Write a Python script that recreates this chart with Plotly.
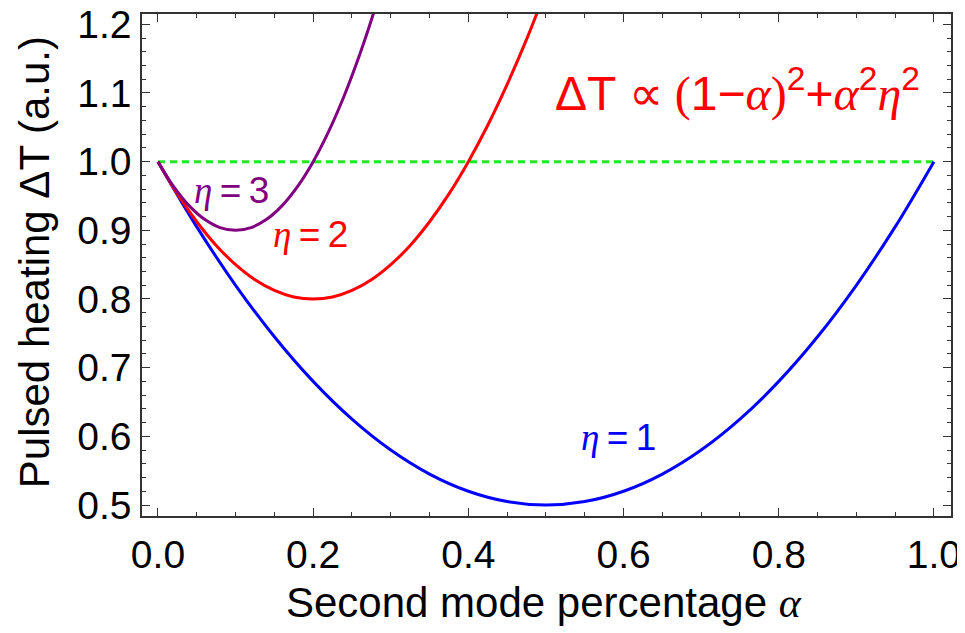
import plotly.graph_objects as go

# Data
alpha_eta1 = [0.00, 0.05, 0.10, 0.15, 0.20, 0.25, 0.30, 0.35, 0.40, 0.45, 0.50,
              0.55, 0.60, 0.65, 0.70, 0.75, 0.80, 0.85, 0.90, 0.95, 1.00]
dT_eta1 = [1.000, 0.905, 0.820, 0.745, 0.680, 0.625, 0.580, 0.545, 0.520, 0.505, 0.500,
           0.505, 0.520, 0.545, 0.580, 0.625, 0.680, 0.745, 0.820, 0.905, 1.000]

alpha_eta2 = [0.000, 0.025, 0.050, 0.075, 0.100, 0.125, 0.150, 0.175, 0.200, 0.225, 0.250,
              0.275, 0.300, 0.325, 0.350, 0.375, 0.400, 0.425, 0.450, 0.475, 0.500]
dT_eta2 = [1.000, 0.953, 0.9125, 0.878, 0.850, 0.828, 0.8125, 0.803, 0.800, 0.803, 0.8125,
           0.828, 0.850, 0.878, 0.9125, 0.953, 1.000, 1.053, 1.1125, 1.178, 1.250]

alpha_eta3 = [0.00, 0.02, 0.04, 0.06, 0.08, 0.10, 0.12, 0.14, 0.16, 0.18, 0.20,
              0.22, 0.24, 0.26, 0.28, 0.30]
dT_eta3 = [1.000, 0.964, 0.936, 0.916, 0.904, 0.900, 0.904, 0.916, 0.936, 0.964, 1.000,
           1.044, 1.096, 1.156, 1.224, 1.300]

alpha_ref = [0.0, 1.0]
dT_ref = [1.0, 1.0]

x_ticks = [0.0, 0.2, 0.4, 0.6, 0.8, 1.0]
x_ticklabels = ["0.0", "0.2", "0.4", "0.6", "0.8", "1.0"]
y_ticks = [0.5, 0.6, 0.7, 0.8, 0.9, 1.0, 1.1, 1.2]
y_ticklabels = ["0.5", "0.6", "0.7", "0.8", "0.9", "1.0", "1.1", "1.2"]

SANS = "Liberation Sans"
SERIF = "Liberation Serif"
TS = "\u2009"  # thin space


def greek(ch):
    return f"<span style='font-family:{SERIF}'><i>{ch}</i></span>"


fig = go.Figure()
fig.add_trace(go.Scatter(x=alpha_ref, y=dT_ref, mode="lines",
                         line=dict(color="#22e622", width=3, dash="7px,5px")))
fig.add_trace(go.Scatter(x=alpha_eta1, y=dT_eta1, mode="lines", line_shape="spline",
                         line=dict(color="#0000ff", width=3)))
fig.add_trace(go.Scatter(x=alpha_eta2, y=dT_eta2, mode="lines", line_shape="spline",
                         line=dict(color="#ff0000", width=3)))
fig.add_trace(go.Scatter(x=alpha_eta3, y=dT_eta3, mode="lines", line_shape="spline",
                         line=dict(color="#800080", width=3)))

axis_common = dict(
    showline=True, linecolor="#333333", linewidth=1.5, mirror="ticks",
    ticks="inside", ticklen=8, tickwidth=1.2, tickcolor="#333333",
    showgrid=False, zeroline=False, automargin=False,
    ticklabeloverflow="allow",
    tickfont=dict(family=SANS, size=39, color="black"),
)

fig.update_xaxes(range=[-0.0206, 1.022], tickvals=x_ticks, ticktext=x_ticklabels,
                 minor=dict(dtick=0.05, ticks="inside", ticklen=4, tickcolor="#333333",
                            tickwidth=1, showgrid=False),
                 ticklabelstandoff=3, **axis_common)
fig.update_yaxes(range=[0.484, 1.215], tickvals=y_ticks, ticktext=y_ticklabels,
                 minor=dict(dtick=0.02, ticks="inside", ticklen=4, tickcolor="#333333",
                            tickwidth=1, showgrid=False),
                 ticklabelstandoff=1, **axis_common)

annotations = [
    dict(x=0.095, y=0.958, xref="x", yref="y", text=greek("η") + TS + "=" + TS + "3",
         showarrow=False, font=dict(family=SANS, size=37, color="#800080")),
    dict(x=0.196, y=0.894, xref="x", yref="y", text=greek("η") + TS + "=" + TS + "2",
         showarrow=False, font=dict(family=SANS, size=37, color="#ff0000")),
    dict(x=0.593, y=0.599, xref="x", yref="y", text=greek("η") + TS + "=" + TS + "1",
         showarrow=False, font=dict(family=SANS, size=37, color="#0000ff")),
    dict(x=0.747, y=1.104, xref="x", yref="y",
         text=("ΔT <span style='font-family:%s'>∝ (</span>1−" % SERIF) + greek("α")
              + ("<span style='font-family:%s'>)</span><sup>2</sup>+" % SERIF)
              + greek("α") + "<sup>2</sup>" + greek("η") + "<sup>2</sup>",
         showarrow=False, font=dict(family=SANS, size=48, color="#ff0000")),
    dict(x=0.4975, y=-0.173, xref="paper", yref="paper",
         text="Second mode percentage " + greek("α"), showarrow=False,
         font=dict(family=SANS, size=42, color="black"), xanchor="center", yanchor="middle"),
    dict(x=-0.132, y=0.506, xref="paper", yref="paper", textangle=-90,
         text="Pulsed heating ΔT (a.u.)", showarrow=False,
         font=dict(family=SANS, size=42, color="black"), xanchor="center", yanchor="middle"),
]

# The page adds an 8px body margin; size the figure so it fills the window exactly.
fig.update_layout(
    width=957, height=625,
    margin=dict(l=134, r=14, t=6, b=117),
    paper_bgcolor="white", plot_bgcolor="white",
    showlegend=False,
    annotations=annotations,
)

fig.write_html("out.html")
